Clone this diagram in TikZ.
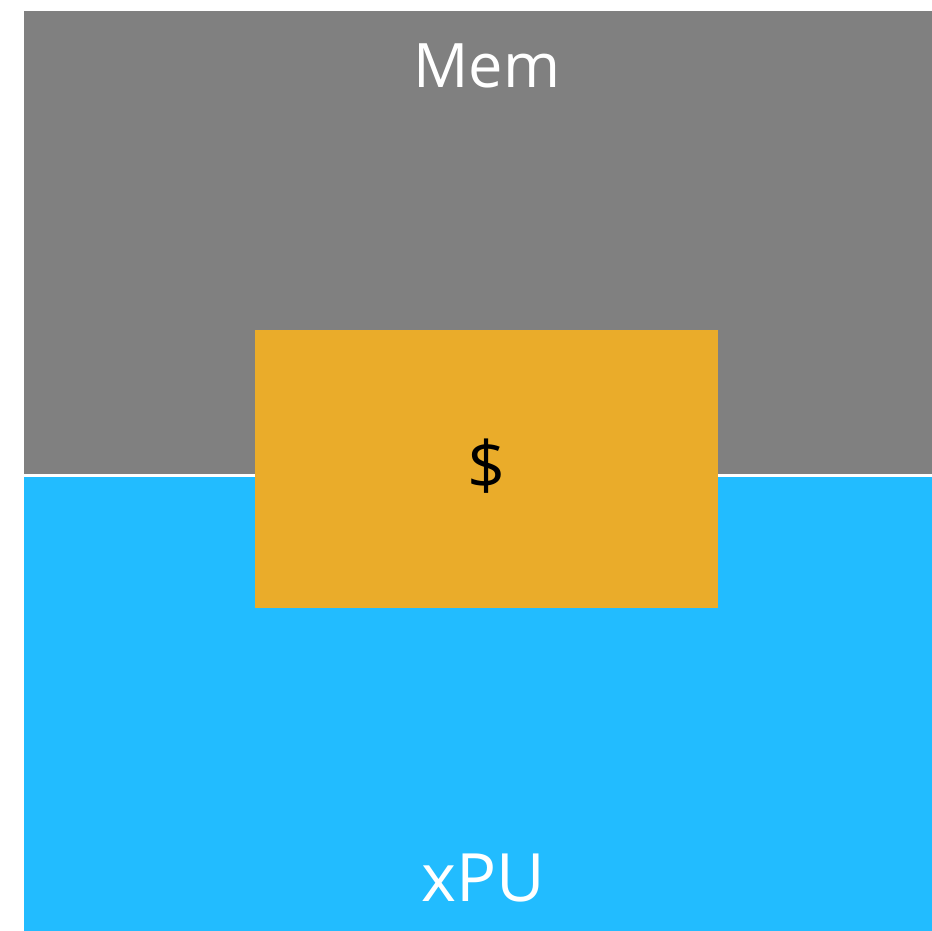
\documentclass[tikz,border=0pt]{standalone}
\usepackage{fontspec}
\setmainfont{Open Sans}
\definecolor{memgray}{HTML}{808080}
\definecolor{xpublue}{HTML}{22BCFF}
\definecolor{cacheorange}{HTML}{EAAC2A}
\begin{document}
\begin{tikzpicture}[x=0.75pt,y=-0.75pt,
  block/.style={inner sep=0pt, outer sep=0pt},
  whitelabel/.style={text=white, anchor=base, inner sep=0pt}]
\useasboundingbox (0,0) rectangle (932,931);
\fill[white] (0,0) rectangle (932,931);
\fill[memgray] (24,11) rectangle (932,474);
\fill[xpublue] (24,477) rectangle (932,931);
\fill[cacheorange] (255,330) rectangle (718,608);
\node[block] (memarea) at (478,242) {};
\node[whitelabel, font=\fontsize{46}{50}\selectfont] (mem) at (487,88) {Mem};
\node[whitelabel, font=\fontsize{50}{56}\selectfont] (xpu) at (483,901) {xPU};
\node[anchor=base, inner sep=0pt, text=black, font=\fontsize{50}{56}\selectfont] (cache) at (487,489) {\$};
\end{tikzpicture}
\end{document}
